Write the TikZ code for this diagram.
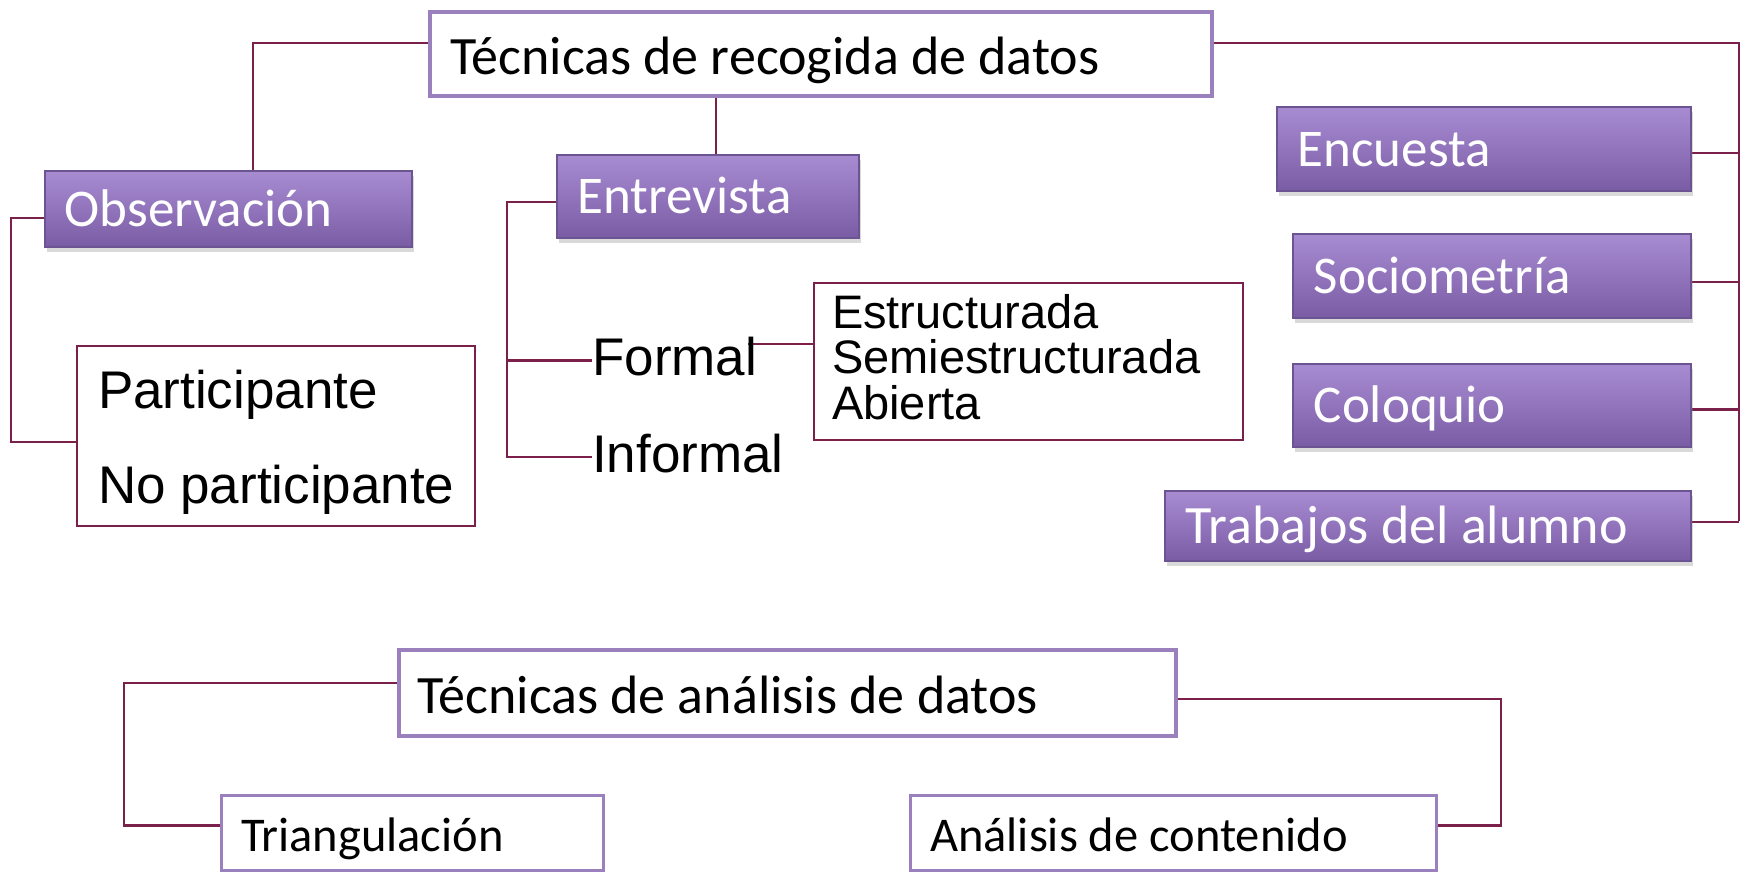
\documentclass[tikz,border=0pt]{standalone}
\usepackage{fontspec}
\setmainfont{Carlito}
\newfontfamily\arialfont{Liberation Sans}
\usetikzlibrary{shadows,backgrounds}

\definecolor{linkred}{HTML}{7B1F4B}
\definecolor{titleedge}{HTML}{9A80BC}
\definecolor{lilaedge}{HTML}{6C5492}
\definecolor{lilatop}{HTML}{A88CD2}
\definecolor{lilabot}{HTML}{7A5CA5}

\tikzset{
	link/.style={draw=linkred, line width=2.5pt},
	titlebox/.style={draw=titleedge, line width=4pt, fill=white, anchor=north west, align=flush left, inner xsep=20pt, inner ysep=0pt, text height=40pt, text depth=0pt, font=\fontsize{54}{60}\selectfont},
	lilabox/.style={draw=lilaedge, line width=1.5pt, top color=lilatop, bottom color=lilabot, text=white, anchor=north west, align=flush left, inner xsep=21pt, inner ysep=0pt, text height=35pt, text depth=0pt, font=\fontsize{53}{60}\selectfont, drop shadow={shadow xshift=2pt, shadow yshift=-5pt, opacity=0.3}},
	listbox/.style={draw=linkred, line width=2pt, fill=white, anchor=north west, align=flush left, inner ysep=0pt},
	leaf/.style={anchor=base west, inner sep=0pt, font=\arialfont\fontsize{53}{60}\selectfont},
	subbox/.style={draw=titleedge, line width=3pt, fill=white, anchor=north west, align=flush left, inner xsep=20pt, inner ysep=0pt, text height=38pt, text depth=0pt, font=\fontsize{48.5}{55}\selectfont}
}

\begin{document}
\begin{tikzpicture}[x=1pt, y=-1pt]
	\useasboundingbox (0,0) rectangle (1745,871);
	% recogida de datos
	\node[titlebox, text width=742pt, minimum height=84pt] (rec) at (428,10) {Técnicas de recogida de datos};
	\node[lilabox, text width=327pt, minimum height=76pt, inner xsep=20pt] (obs) at (44,170) {Observación};
	\node[lilabox, text width=260pt, minimum height=83pt] (ent) at (556,154) {Entrevista};
	\node[lilabox, text width=372pt, minimum height=84pt] (enc) at (1276,106) {Encuesta};
	\node[lilabox, text width=356pt, minimum height=84pt] (soc) at (1292,233) {Sociometría};
	\node[lilabox, text width=356pt, minimum height=83pt] (col) at (1292,363) {Coloquio};
	\node[lilabox, text width=484pt, minimum height=70pt, font=\fontsize{54}{60}\selectfont] (trab) at (1164,490) {Trabajos del alumno};
	\node[listbox, text width=356pt, minimum height=180pt, inner xsep=21pt, font=\arialfont\fontsize{53}{95}\selectfont] (part) at (76,345) {\rule{0pt}{51pt}Participante\\\mbox{No participante}};
	\node[leaf] (formal) at (592,375) {Formal};
	\node[leaf] (informal) at (592,472) {Informal};
	\node[listbox, text width=393pt, minimum height=157pt, inner xsep=18pt, font=\arialfont\fontsize{47}{45.5}\selectfont] (estr) at (813,282) {Estructurada\\Semiestructurada\\Abierta\rule[-10pt]{0pt}{10pt}};
	\coordinate (rbus) at (1739,521);
	% analisis de datos
	\node[titlebox, text width=741pt, minimum height=86pt, inner xsep=18pt] (ana) at (397,648) {Técnicas de análisis de datos};
	\node[subbox, text width=342pt, minimum height=75pt] (tri) at (219.5,793.5) {Triangulación};
	\node[subbox, text width=486pt, minimum height=75pt] (cont) at (908.5,793.5) {Análisis de contenido};

	\begin{scope}[on background layer]
		\draw[link] ([yshift=11pt]rec.west) -| ([xshift=24.5pt]obs.north);
		\draw[link] ([xshift=8pt]ent.north) -- ([xshift=8pt]ent.north |- rec.south);
		\draw[link] ([yshift=-9pt]obs.west) -- ++(-33,0) |- ([yshift=-6pt]part.west);
		\draw[link] ([yshift=-5.5pt]ent.west) -- ++(-49,0) |- ([yshift=-4pt]informal.west);
		\draw[link] ([xshift=-49pt,yshift=-4.5pt]ent.west |- formal.west) -- ([yshift=-4.5pt]formal.west);
		\draw[link] ([xshift=-9pt,yshift=12pt]formal.east) -- ([yshift=12pt]formal.east -| estr.west);
		\draw[link] ([yshift=11pt]rec.east) -| (rbus);
		\foreach \n/\s in {enc/-4, soc/-6, col/-4, trab/4}
		{
			\draw[link] ([yshift=\s pt]\n.east) -- ([yshift=\s pt]\n.east -| rbus);
		}
		\draw[link] ([yshift=10pt]ana.west) -| ([xshift=-95.5pt,yshift=7pt]tri.west) -- ([yshift=7pt]tri.west);
		\draw[link] ([yshift=-6pt]ana.east) -| ([xshift=63.5pt,yshift=7pt]cont.east) -- ([yshift=7pt]cont.east);
	\end{scope}
\end{tikzpicture}
\end{document}
